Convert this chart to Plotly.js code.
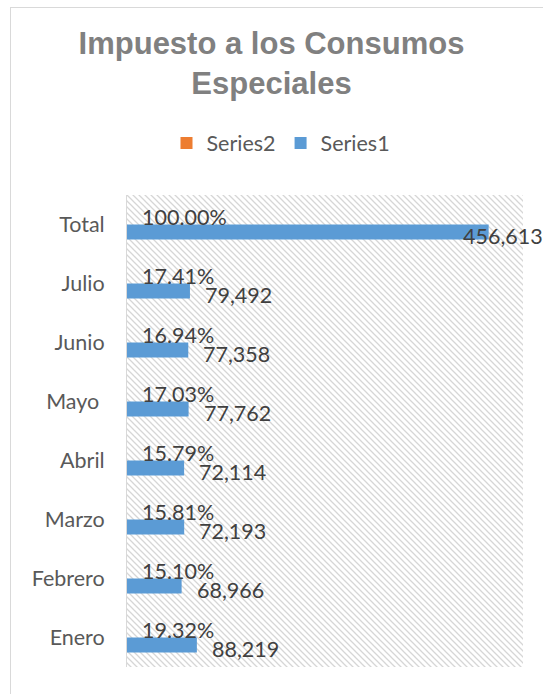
<!DOCTYPE html>
<html>
<head>
<meta charset="utf-8">
<script src="https://cdn.plot.ly/plotly-3.0.1.min.js"></script>
<style>
  html, body { margin: 0; padding: 0; background: #ffffff; }
  #wrap { position: relative; width: 543px; height: 694px; overflow: hidden; }
  #frame { position: absolute; left: 10px; top: 7px; width: 600px; height: 760px; border: 1px solid #d9d9d9; box-sizing: border-box; }
  #chart { position: absolute; left: 0; top: 0; width: 543px; height: 694px; }
</style>
</head>
<body>
<div id="wrap">
  <div id="frame"></div>
  <div id="chart"></div>
</div>
<script>
// ---- data ----
const categories = ['Enero', 'Febrero', 'Marzo', 'Abril', 'Mayo\u00a0', 'Junio', 'Julio', 'Total'];
const series1 = [88219, 68966, 72193, 72114, 77762, 77358, 79492, 456613];
const series2 = [0.1932, 0.1510, 0.1581, 0.1579, 0.1703, 0.1694, 0.1741, 1.0000];
const series1Name = 'Series1';
const series2Name = 'Series2';
const chartTitle = 'Impuesto a los Consumos<br>Especiales';

// ---- styles ----
const FONT = 'Lato, "Open Sans", sans-serif';
const labelFont = { family: FONT, size: 21.5, color: '#404040' };
const W = 543, H = 694;
const margin = { l: 127, r: 20, t: 195, b: 27 };
const plotW = W - margin.l - margin.r, plotH = H - margin.t - margin.b;

function hatchSvg(w, h) {
  const svg = "<svg xmlns='http://www.w3.org/2000/svg' width='" + w + "' height='" + h + "'>" +
    "<defs><pattern id='p' width='6' height='6' patternUnits='userSpaceOnUse'>" +
    "<path d='M-2,-2 L8,8 M4,-2 L8,2 M-2,4 L2,8' stroke='#d6d6d6' stroke-width='1.3'/>" +
    "</pattern></defs><rect width='100%' height='100%' fill='#ffffff'/>" +
    "<rect width='100%' height='100%' fill='url(#p)'/></svg>";
  return 'data:image/svg+xml;charset=utf-8,' + encodeURIComponent(svg);
}

const fmt = v => v.toLocaleString('en-US');
const pct = v => (v * 100).toFixed(2) + '%';
const maxVal = Math.max(...series1);

const traces = [
  {
    type: 'bar', orientation: 'h', name: series1Name,
    y: categories, x: series1,
    marker: { color: '#5B9BD5' },
    hoverinfo: 'x+y'
  },
  {
    type: 'bar', orientation: 'h', name: series2Name,
    y: categories, x: series2,
    marker: { color: '#ED7D31' },
    hoverinfo: 'x+y'
  }
];

const annotations = [];
categories.forEach((c, i) => {
  annotations.push({
    x: 0, y: c, xref: 'x', yref: 'y',
    text: pct(series2[i]), showarrow: false,
    xanchor: 'left', yanchor: 'middle', xshift: 13, yshift: 8,
    font: labelFont
  });
  annotations.push({
    x: series1[i], y: c, xref: 'x', yref: 'y',
    text: fmt(series1[i]), showarrow: false,
    xanchor: 'left', yanchor: 'middle',
    xshift: series1[i] === maxVal ? -28 : 13, yshift: -11,
    font: labelFont
  });
});

const layout = {
  width: W, height: H,
  margin: margin,
  paper_bgcolor: 'rgba(0,0,0,0)',
  plot_bgcolor: '#ffffff',
  barmode: 'group',
  bargap: 0.49,
  bargroupgap: 0,
  title: {
    text: chartTitle,
    x: 0.5, xref: 'container', xanchor: 'center',
    y: 1 - 54 / H, yref: 'container', yanchor: 'middle',
    font: { family: '"Liberation Sans", Arial, sans-serif', size: 31, color: '#808080', weight: 'bold' }
  },
  showlegend: true,
  legend: {
    orientation: 'h', traceorder: 'reversed',
    xref: 'container', yref: 'container',
    x: 281 / W, xanchor: 'center', y: 1 - 143 / H, yanchor: 'middle',
    font: { family: FONT, size: 21.5, color: '#595959' },
    itemwidth: 30
  },
  xaxis: {
    range: [0, 500000], visible: false, showgrid: false, zeroline: false, fixedrange: true
  },
  yaxis: {
    type: 'category', showline: true, linecolor: '#d9d9d9', linewidth: 1,
    ticks: '', showgrid: false, zeroline: false,
    ticklabelstandoff: 17,
    tickfont: { family: FONT, size: 21.5, color: '#595959' }
  },
  images: [{
    source: hatchSvg(plotW, plotH),
    xref: 'paper', yref: 'paper', x: 0, y: 1, sizex: 1, sizey: 1,
    xanchor: 'left', yanchor: 'top', sizing: 'stretch', layer: 'below'
  }],
  annotations: annotations
};

Plotly.newPlot('chart', traces, layout, { staticPlot: true, displayModeBar: false });
</script>
</body>
</html>
